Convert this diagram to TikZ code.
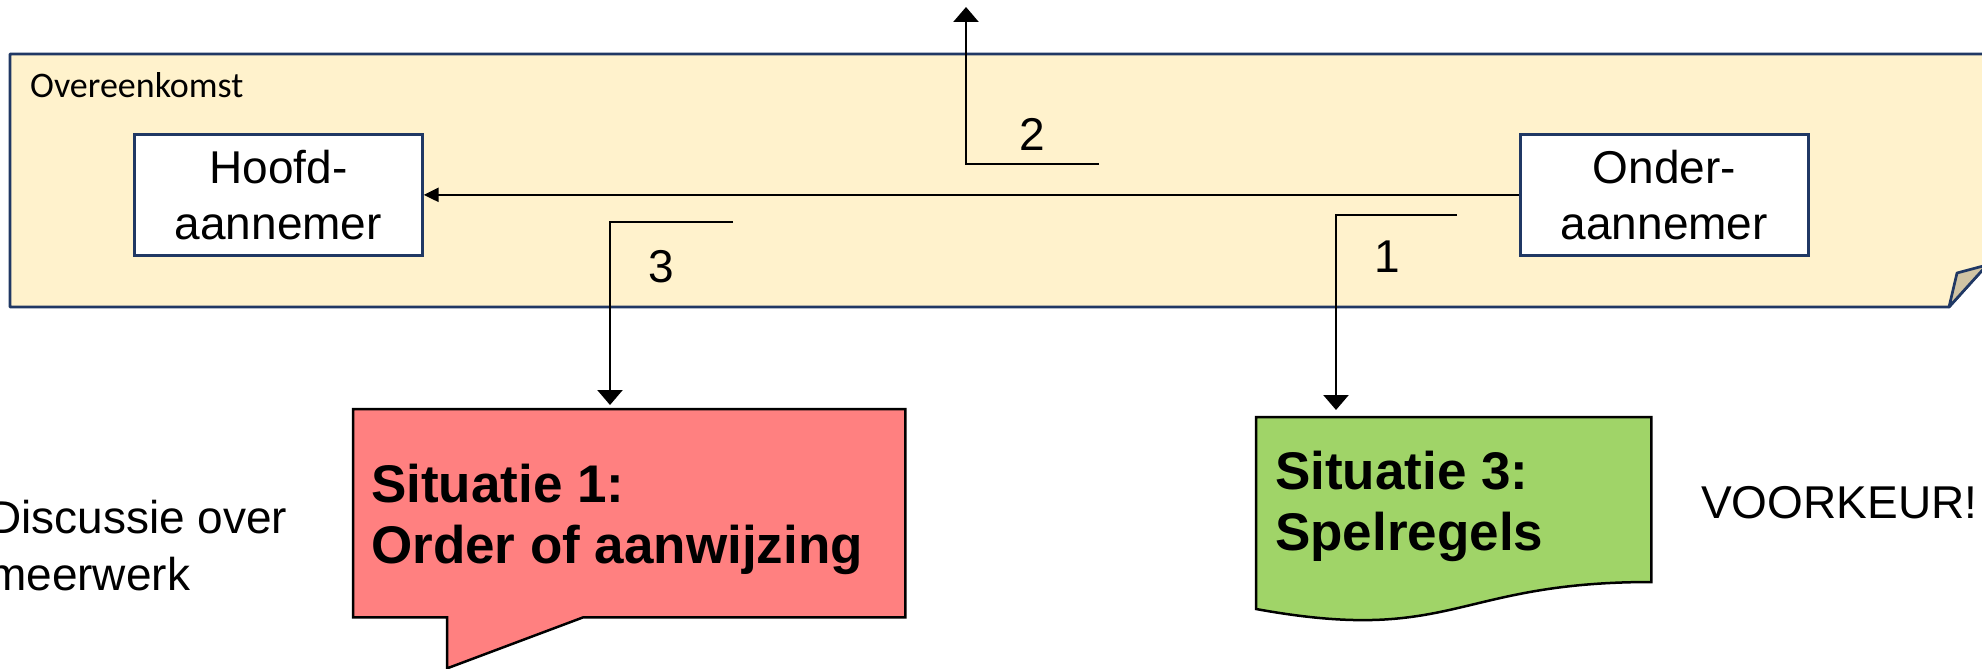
\documentclass[tikz,border=0pt]{standalone}
\usepackage{fontspec}
\setmainfont{Liberation Sans}
\newfontfamily\calibrifont{Carlito}
\usetikzlibrary{arrows.meta,calc}
\definecolor{cream}{HTML}{FFF2CC}
\definecolor{navy}{HTML}{203864}
\definecolor{salmon}{HTML}{FF8080}
\definecolor{leaf}{HTML}{A0D468}
\definecolor{foldtan}{HTML}{D0C4A4}
\tikzset{
  party/.style={draw=navy, line width=2.7pt, fill=white, minimum width=288pt,
    minimum height=121pt, inner sep=0pt, align=center,
    font=\fontsize{46pt}{56pt}\selectfont},
  conn/.style={line width=2.5pt, draw=black},
  vtip/.style={-{Triangle[length=15pt,width=25pt]}},
  htip/.style={-{Triangle[length=15pt,width=14pt]}},
  lbl/.style={font=\fontsize{46pt}{56pt}\selectfont, inner sep=0pt, anchor=base},
  sit/.style={font=\bfseries\fontsize{53pt}{61pt}\selectfont, align=left,
    inner sep=0pt, anchor=base west},
  holder/.style={inner sep=0pt, anchor=north west},
  plain/.style={anchor=base west, align=left, inner sep=0pt,
    font=\fontsize{46pt}{57pt}\selectfont},
}
\begin{document}
\begin{tikzpicture}[x=1pt,y=-1pt]
\useasboundingbox (0,0) rectangle (1982,669);
% agreement container with curled corner
\draw[navy, line width=2.7pt, fill=cream, line join=round]
  (10,54) -- (2005,54) -- (2005,245) -- (1949,307) -- (10,307) -- cycle;
\draw[navy, line width=2.7pt, fill=foldtan, line join=round]
  (1949,307) -- (1957,273) -- (1987,265) -- cycle;
\node[anchor=base west, inner sep=0pt, font=\calibrifont\fontsize{36pt}{40pt}\selectfont]
  (ovk) at (30,98) {Overeenkomst};
% parties
\node[party, anchor=north west] (hoofd) at (133,133) {Hoofd-\\aannemer};
\node[party, anchor=north west] (onder) at (1519,133) {Onder-\\aannemer};
\draw[conn, htip] (onder) -- (hoofd);
% Situatie 1 (speech bubble)
\node[holder, minimum width=552pt, minimum height=208pt] (s1) at (353,409) {};
\draw[line width=2.5pt, fill=salmon]
  (s1.north west) -- (s1.north east) -- (s1.south east)
  -- ($(s1.south west)+(230,0)$) -- ($(s1.south west)+(94,51)$)
  -- ($(s1.south west)+(94,0)$) -- (s1.south west) -- cycle;
\node[sit] (s1t) at (371,563) {Situatie 1:\\Order of aanwijzing};
% Situatie 3 (document)
\node[holder, minimum width=395pt, minimum height=206pt] (s3) at (1256,417) {};
\draw[line width=2.5pt, fill=leaf]
  (s3.north west) -- (s3.north east) -- ($(s3.north east)+(0,165)$)
  .. controls ($(s3.north)+(0,165)$) and ($(s3.north)+(0,228)$) ..
  ($(s3.north west)+(0,192)$) -- cycle;
\node[sit] (s3t) at (1275,550) {Situatie 3:\\Spelregels};
% connector 2
\coordinate (c2) at (1099,164);
\coordinate (c2top) at (966,7);
\draw[conn, vtip] (c2) -- (c2 -| c2top) -- (c2top);
\node[lbl] (n2) at (1032,150) {2};
% connector 3
\coordinate (c3) at (733,222);
\coordinate (c3bend) at (610,222);
\draw[conn, vtip, shorten >=4pt] (c3) -- (c3bend) -- (c3bend |- s1.north);
\node[lbl] (n3) at (661,282) {3};
% connector 1
\coordinate (c1) at (1457,215);
\coordinate (c1bend) at (1336,215);
\draw[conn, vtip, shorten >=7pt] (c1) -- (c1bend) -- (c1bend |- s3.north);
\node[lbl] (n1) at (1387,272) {1};
% side texts
\node[plain] (disc) at (-12,590) {Discussie over\\meerwerk};
\node[plain] (vk) at (1701,518) {VOORKEUR!};
\end{tikzpicture}
\end{document}
